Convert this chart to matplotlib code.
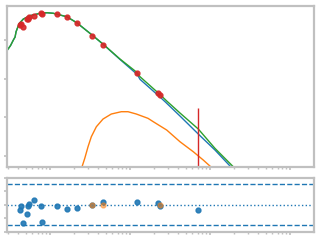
import numpy as np
import matplotlib
matplotlib.use("Agg")
import matplotlib.pyplot as plt

obs_lx = [0.634, 0.629, 0.666, 0.716, 0.729, 0.741, 0.804, 0.891, 0.904,
          1.091, 1.216, 1.341, 1.529, 1.666, 2.091, 2.354, 2.379]
obs_ly = [3.416, 3.390, 3.345, 3.538, 3.545, 3.590, 3.631, 3.694, 3.667,
          3.667, 3.597, 3.434, 3.104, 2.870, 2.143, 1.631, 1.584]

# point far below the window, only its error bar shows
lim_lx = 2.854
lim_lo, lim_hi = -1.0, 1.226

# model curves
total_lx = [0.466, 0.506, 0.541, 0.5625, 0.575, 0.591, 0.616, 0.666, 0.750,
            0.875, 0.9625, 1.041, 1.209, 1.334, 1.541, 1.666, 1.875, 2.091,
            2.125, 2.375, 2.459, 2.625, 2.854, 3.0625, 3.291, 3.325]
total_ly = [2.740, 2.857, 3.000, 3.078, 3.216, 3.304, 3.434, 3.545, 3.631,
            3.694, 3.709, 3.694, 3.605, 3.449, 3.104, 2.888, 2.506, 2.151,
            2.047, 1.584, 1.416, 1.104, 0.688, 0.186, -0.291, -0.377]

sync_lx = [0.466, 0.506, 0.541, 0.5625, 0.575, 0.591, 0.616, 0.666, 0.750,
           0.875, 0.9625, 1.041, 1.209, 1.334, 1.541, 1.666, 1.875, 2.091,
           2.125, 2.375, 2.441, 2.625, 2.854, 3.0625, 3.259, 3.294]
sync_ly = [2.740, 2.857, 3.000, 3.078, 3.216, 3.304, 3.434, 3.545, 3.631,
           3.694, 3.709, 3.694, 3.605, 3.449, 3.104, 2.885, 2.495, 2.104,
           1.979, 1.519, 1.393, 1.026, 0.558, 0.143, -0.291, -0.377]

ic_lx = [1.4, 1.434, 1.475, 1.516, 1.579, 1.6625, 1.766, 1.891, 1.975,
         2.079, 2.225, 2.291, 2.459, 2.625, 2.791, 2.916, 3.009, 3.025]
ic_ly = [-0.291, -0.073, 0.229, 0.488, 0.748, 0.948, 1.078, 1.138, 1.138,
         1.078, 0.966, 0.878, 0.662, 0.358, 0.099, -0.117, -0.291, -0.351]

# residuals
res_lx = [0.634, 0.629, 0.666, 0.716, 0.729, 0.741, 0.804, 0.891, 0.904,
          1.091, 1.216, 1.341, 1.529, 1.666, 2.091, 2.354, 2.379, 2.854]
res_val = [-0.07, -0.40, -1.37, -0.69, -0.10, 0.05, 0.35, -0.10, -1.29,
           -0.10, -0.32, -0.25, -0.02, 0.20, 0.20, 0.13, -0.10, -0.40]
ul_lx = [1.529, 1.666, 2.379]
ul_val = [-0.02, -0.02, -0.02]

GREY = "#c0c0c0"


def style(ax):
    for s in ax.spines.values():
        s.set_color(GREY)
        s.set_linewidth(1.6)
    ax.tick_params(which="both", color=GREY, labelleft=False, labelbottom=False,
                   direction="out")
    ax.tick_params(which="major", length=2, width=1.2)
    ax.tick_params(which="minor", length=1.5, width=1.0)


fig = plt.figure(figsize=(3.2, 2.4), dpi=100)
ax = fig.add_axes([0.023, 0.304, 0.958, 0.673])
ax2 = fig.add_axes([0.023, 0.033, 0.958, 0.227])

ax.plot(10 ** np.array(sync_lx), sync_ly, color="C0", lw=1)
ax.plot(10 ** np.array(ic_lx), ic_ly, color="C1", lw=1)
ax.plot(10 ** np.array(total_lx), total_ly, color="C2", lw=1)
ax.vlines(10 ** lim_lx, lim_lo, lim_hi, color="C3", lw=1)
ax.plot(10 ** np.array(obs_lx), obs_ly, "o", color="C3", ms=3.5, alpha=0.9)
ax.set_xscale("log")
ax.set_xlim(10 ** 0.466, 10 ** 4.3)
ax.set_ylim(-0.299, 3.896)
ax.set_yticks([0, 1, 2, 3])
style(ax)

ax2.axhline(0, color="C0", ls=":", lw=1)
ax2.axhline(1.5, color="C0", ls="--", lw=1)
ax2.axhline(-1.5, color="C0", ls="--", lw=1)
ax2.plot(10 ** np.array(res_lx), res_val, "o", color="C0", ms=3.5, alpha=0.9)
ax2.plot(10 ** np.array(ul_lx), ul_val, "o", color="C1", ms=3.5, alpha=0.5)
ax2.set_xscale("log")
ax2.set_xlim(10 ** 0.466, 10 ** 4.3)
ax2.set_ylim(-2, 2)
ax2.set_yticks([-2, -1, 0, 1, 2])
style(ax2)

fig.savefig("out.png", dpi=100)
